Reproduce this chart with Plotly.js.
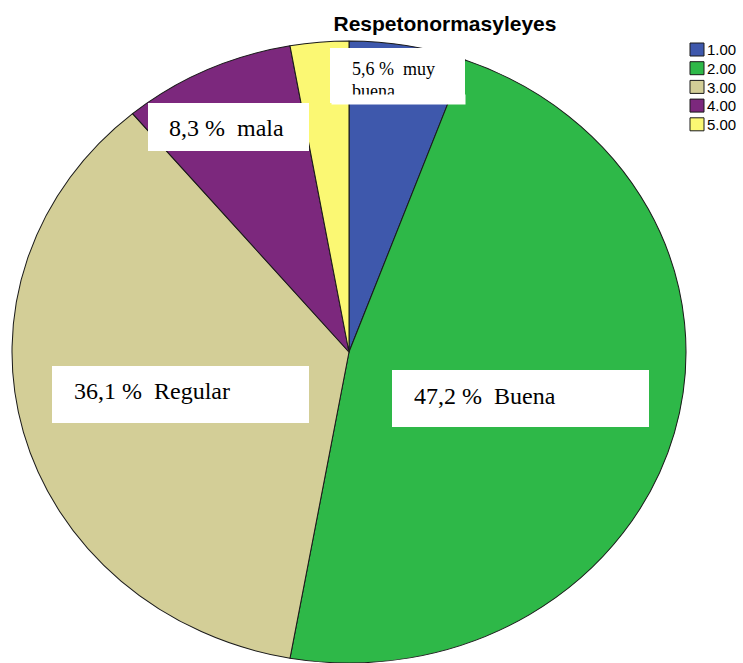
<!DOCTYPE html>
<html>
<head>
<meta charset="utf-8">
<script src="https://cdn.plot.ly/plotly-3.0.1.min.js"></script>
<style>html,body{margin:0;padding:0;background:#fff;overflow:hidden}</style>
</head>
<body>
<div id="chart" style="width:743px;height:663px"></div>
<script>
// ---- data ----
const categories = ['1.00', '2.00', '3.00', '4.00', '5.00'];
const percentages = [5.6, 47.2, 36.1, 8.3, 2.8];
const labelNames = ['muy buena', 'Buena', 'Regular', 'mala', ''];
const sliceColors = ['#3E58AC', '#2EB848', '#D3CE97', '#7C287D', '#FBF873'];
const chartTitle = 'Respetonormasyleyes';

// ---- helpers ----
const W = 743, H = 663;
const px = x => x / W;
const py = y => 1 - y / H;
const fmt = v => v.toFixed(1).replace('.', ',') + ' %\u00a0 ';

const serif = 'Liberation Serif, Times New Roman, serif';
const sans = 'Liberation Sans, Arial, sans-serif';

const trace = {
  type: 'pie',
  labels: categories,
  values: percentages,
  sort: false,
  direction: 'clockwise',
  rotation: 0,
  textinfo: 'none',
  hoverinfo: 'skip',
  marker: {colors: sliceColors, line: {color: '#1a1a1a', width: 1}},
  domain: {x: [0, 698 / W], y: [0, 1]}
};

// label boxes (pixel rects) per category index
const boxes = [
  {i: 0, x0: 330, x1: 465, y0: 48, y1: 103},
  {i: 1, x0: 392, x1: 649, y0: 370, y1: 427},
  {i: 2, x0: 52, x1: 309, y0: 366, y1: 423},
  {i: 3, x0: 148, x1: 309, y0: 103, y1: 151}
];
const shapes = boxes.map(b => ({
  type: 'rect', xref: 'paper', yref: 'paper', layer: 'above',
  x0: px(b.x0), x1: px(b.x1), y0: py(b.y1), y1: py(b.y0),
  fillcolor: '#ffffff', line: {width: 0}
}));

const annotations = [
  {text: fmt(percentages[0]) + labelNames[0].split(' ')[0], x: px(350), y: py(69), size: 18},
  {text: labelNames[0].split(' ')[1], x: px(350), y: py(91.5), size: 18},
  {text: fmt(percentages[1]) + labelNames[1], x: px(412), y: py(396), size: 24},
  {text: fmt(percentages[2]) + labelNames[2], x: px(72), y: py(391), size: 24},
  {text: fmt(percentages[3]) + labelNames[3], x: px(167), y: py(128), size: 24}
].map(a => ({
  xref: 'paper', yref: 'paper', x: a.x, y: a.y, xanchor: 'left', yanchor: 'middle',
  text: a.text, showarrow: false, font: {family: serif, size: a.size, color: '#000'}
}));
// white cover to clip the second line inside the first box
annotations.push({
  xref: 'paper', yref: 'paper', x: px(331), y: py(94), xanchor: 'left', yanchor: 'top',
  text: '\u00a0', showarrow: false, font: {size: 1}, width: 133, height: 9,
  bgcolor: '#ffffff', borderpad: 0
});

const layout = {
  width: W, height: H,
  margin: {l: 0, r: 0, t: 0, b: 0, autoexpand: false},
  paper_bgcolor: '#ffffff',
  title: {
    text: '<b>' + chartTitle + '</b>',
    font: {family: sans, size: 21, color: '#000'},
    x: 445 / W, xanchor: 'center', xref: 'container',
    y: 1 - 23.5 / H, yanchor: 'middle', yref: 'container'
  },
  showlegend: true,
  legend: {
    x: px(676.5), xanchor: 'left', y: py(36), yanchor: 'top',
    font: {family: sans, size: 15, color: '#000'},
    bgcolor: 'rgba(0,0,0,0)', borderwidth: 0
  },
  shapes: shapes,
  annotations: annotations
};

function parseTranslate(s) {
  const m = /translate\(\s*([-\d.eE]+)[ ,]+([-\d.eE]+)\s*\)/.exec(s || '');
  return m ? [parseFloat(m[1]), parseFloat(m[2])] : [0, 0];
}

Plotly.newPlot('chart', [trace], layout, {displayModeBar: false, staticPlot: true}).then(gd => {
  // stretch pie into the slight ellipse of the reference
  const cd0 = gd.calcdata[0][0];
  const cx = cd0.cx, cy = cd0.cy, r = cd0.r;
  const sx = 337 / r, sy = 311 / r;
  const tx = 349 - sx * cx, ty = 352 - sy * cy;
  const pl = gd.querySelector('.pielayer');
  if (pl) pl.setAttribute('transform', `matrix(${sx},0,0,${sy},${tx},${ty})`);

  // legend: tighter swatch/text gap, larger swatches, SPSS-like row spacing
  gd.querySelectorAll('.legendtext').forEach(t => {
    t.setAttribute('x', parseFloat(t.getAttribute('x')) - 10);
  });
  gd.querySelectorAll('.legendpoints path').forEach(p => {
    p.setAttribute('d', 'M7,6.5H-7V-6.5H7Z');
  });
  const items = Array.from(gd.querySelectorAll('.legend .traces'));
  if (items.length) {
    const t0 = parseTranslate(items[0].getAttribute('transform'));
    items.forEach((g, k) => {
      const t = parseTranslate(g.getAttribute('transform'));
      g.setAttribute('transform', `translate(${t[0]},${t0[1] + k * 18.7})`);
    });
    const sw = items[0].querySelector('.legendpoints path');
    const leg = gd.querySelector('.legend');
    if (sw && leg) {
      const rc = sw.getBoundingClientRect();
      const gr = gd.getBoundingClientRect();
      const ccx = rc.left + rc.width / 2 - gr.left;
      const ccy = rc.top + rc.height / 2 - gr.top;
      const lt = parseTranslate(leg.getAttribute('transform'));
      leg.setAttribute('transform', `translate(${lt[0] + (697 - ccx)},${lt[1] + (49.5 - ccy)})`);
    }
  }
});
</script>
</body>
</html>
